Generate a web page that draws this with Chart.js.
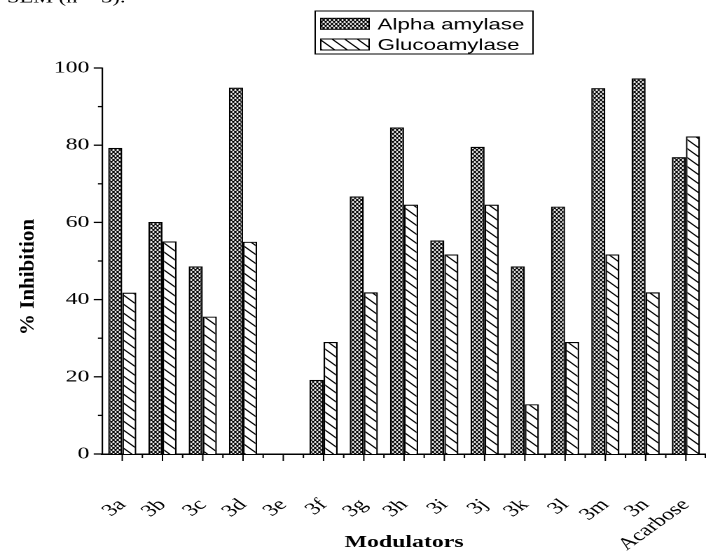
<!DOCTYPE html>
<html><head><meta charset="utf-8">
<script src="https://cdn.jsdelivr.net/npm/chart.js@4/dist/chart.umd.min.js"></script>
<style>
html,body{margin:0;padding:0;background:#fff;overflow:hidden;}
#wrap{position:absolute;left:0;top:0;width:504px;height:554px;transform:scaleX(1.4008);transform-origin:0 0;}
</style></head><body>
<div id="wrap"><canvas id="c" width="504" height="554"></canvas></div>
<script>
const categories = ['3a','3b','3c','3d','3e','3f','3g','3h','3i','3j','3k','3l','3m','3n','Acarbose'];
const alphaAmylase = [79.3, 60.1, 48.6, 94.9, 0, 19.2, 66.7, 84.6, 55.3, 79.6, 48.6, 64.1, 94.8, 97.3, 76.9];
const glucoamylase = [41.8, 55.1, 35.6, 55.0, 0, 29.0, 41.9, 64.6, 51.7, 64.6, 12.9, 29.0, 51.7, 41.9, 82.3];
const yTickValues = [0, 20, 40, 60, 80, 100];
const seriesNames = ['Alpha amylase', 'Glucoamylase'];
const headerText = 'SEM (n = 3).';
const xTitle = 'Modulators';
const yTitle = '% Inhibition';

const SERIF = '"Liberation Serif", "Times New Roman", serif';
const SANS = '"Liberation Sans", Arial, sans-serif';
const STRETCH = 1.4008;

function makeCross() {
  const c = document.createElement('canvas');
  c.width = 6; c.height = 8;
  const g = c.getContext('2d');
  g.fillStyle = '#fff'; g.fillRect(0, 0, 6, 8);
  g.strokeStyle = '#000'; g.lineWidth = 1.8;
  g.beginPath();
  for (const dx of [-6, 0, 6]) {
    g.moveTo(dx - 1.5, -2); g.lineTo(dx + 7.5, 10);
    g.moveTo(dx + 7.5, -2); g.lineTo(dx - 1.5, 10);
  }
  g.stroke();
  const p = g.createPattern(c, 'repeat');
  p.setTransform(new DOMMatrix().scale(0.5));
  return p;
}
function makeDiag() {
  const c = document.createElement('canvas');
  c.width = 18; c.height = 18;
  const g = c.getContext('2d');
  g.fillStyle = '#fff'; g.fillRect(0, 0, 18, 18);
  g.strokeStyle = '#000'; g.lineWidth = 2.2;
  g.beginPath();
  for (const dx of [-18, 0, 18]) {
    g.moveTo(dx - 3, -3); g.lineTo(dx + 21, 21);
  }
  g.stroke();
  const p = g.createPattern(c, 'repeat');
  p.setTransform(new DOMMatrix().scale(0.5));
  return p;
}
const crossPat = makeCross();
const diagPat = makeDiag();

const extras = {
  id: 'extras',
  afterDraw(chart) {
    const ctx = chart.ctx;
    const xs = chart.scales.x, ys = chart.scales.y;
    const ca = chart.chartArea;
    ctx.save();
    ctx.strokeStyle = '#000';
    // y ticks
    ctx.lineWidth = 1.3;
    for (let v = 0; v <= 100; v += 10) {
      const py = ys.getPixelForValue(v);
      const len = (v % 20 === 0) ? 6 : 3;
      ctx.beginPath(); ctx.moveTo(ca.left - len, py); ctx.lineTo(ca.left, py); ctx.stroke();
    }
    // x ticks
    ctx.lineWidth = 1.0;
    const w = xs.getPixelForValue(1) - xs.getPixelForValue(0);
    for (let i = 0; i < categories.length; i++) {
      const px = xs.getPixelForValue(i);
      ctx.beginPath(); ctx.moveTo(px, ca.bottom); ctx.lineTo(px, ca.bottom + 7); ctx.stroke();
      const bx = px - w / 2;
      if (i > 0) { ctx.beginPath(); ctx.moveTo(bx, ca.bottom); ctx.lineTo(bx, ca.bottom + 4); ctx.stroke(); }
    }
    ctx.beginPath(); ctx.moveTo(ca.right - 0.5, ca.bottom); ctx.lineTo(ca.right - 0.5, ca.bottom + 4); ctx.stroke();
    // y axis title (not stretched)
    ctx.save();
    ctx.fillStyle = '#000';
    ctx.font = 'bold 21px ' + SERIF;
    ctx.textAlign = 'center';
    ctx.textBaseline = 'middle';
    ctx.translate(20.3, 277);
    ctx.scale(1 / STRETCH, 1);
    ctx.rotate(-Math.PI / 2);
    ctx.fillText(yTitle, 0, 0);
    ctx.restore();
    // legend
    ctx.lineWidth = 1.0;
    ctx.strokeRect(225, 11, 155.5, 43);
    const rows = [[18.3, crossPat], [39, diagPat]];
    ctx.font = '16px ' + SANS;
    ctx.textBaseline = 'alphabetic';
    ctx.textAlign = 'left';
    rows.forEach((r, k) => {
      ctx.fillStyle = r[1];
      ctx.fillRect(229, r[0], 34.5, 11);
      ctx.strokeRect(229, r[0], 34.5, 11);
      ctx.fillStyle = '#000';
      ctx.fillText(seriesNames[k], 269.5, r[0] + 11.2);
    });
    // header fragment
    ctx.font = '16px ' + SERIF;
    ctx.fillText(headerText, 5, 2.5);
    ctx.restore();
  }
};

new Chart(document.getElementById('c'), {
  type: 'bar',
  data: {
    labels: categories,
    datasets: [
      { label: seriesNames[0], data: alphaAmylase, backgroundColor: crossPat, borderColor: '#000', borderWidth: 1.2, borderSkipped: 'bottom' },
      { label: seriesNames[1], data: glucoamylase, backgroundColor: diagPat, borderColor: '#000', borderWidth: 1.2, borderSkipped: 'bottom' }
    ]
  },
  options: {
    responsive: false,
    animation: false,
    devicePixelRatio: 2,
    layout: { padding: { left: 0, right: 0, top: 68, bottom: 0 } },
    datasets: { bar: { categoryPercentage: 0.7, barPercentage: 1.0 } },
    plugins: { legend: { display: false }, tooltip: { enabled: false }, title: { display: false } },
    scales: {
      x: {
        grid: { display: false, drawTicks: false },
        border: { display: true, color: '#000', width: 1.5 },
        ticks: { color: '#000', font: { family: SERIF, size: 17 }, maxRotation: 45, minRotation: 45, autoSkip: false, padding: 41 },
        title: { display: true, text: xTitle, color: '#000', font: { family: SERIF, size: 17, weight: 'bold' }, padding: { top: 0, bottom: 1.4 } },
        afterFit(s) { s.height = 100; s.paddingLeft = 0; s.paddingRight = 0; }
      },
      y: {
        min: 0, max: 100,
        grid: { display: false, drawTicks: false },
        border: { display: true, color: '#000', width: 1.1 },
        afterBuildTicks(s) { s.ticks = yTickValues.map(v => ({ value: v })); },
        ticks: { color: '#000', font: { family: SERIF, size: 17 }, padding: 9 },
        title: { display: false },
        afterFit(s) { s.width = 72.9; s.paddingTop = 0; s.paddingBottom = 0; }
      }
    }
  },
  plugins: [extras]
});
</script>
</body></html>
